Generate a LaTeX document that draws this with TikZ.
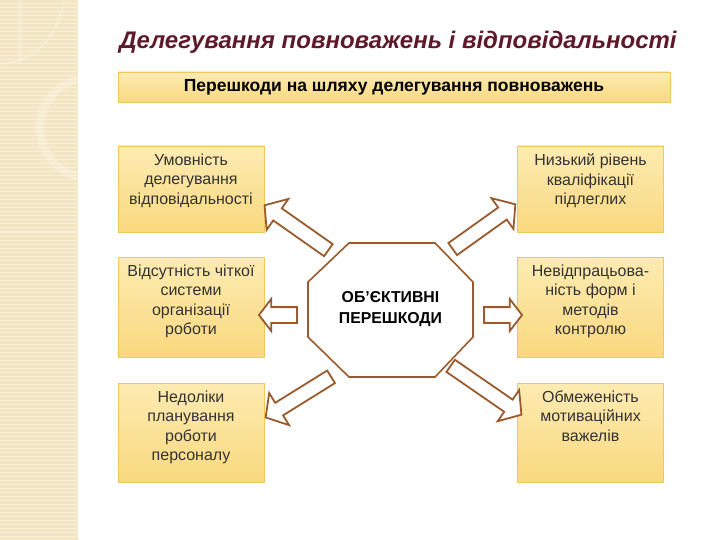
\documentclass[tikz,border=0pt]{standalone}
\usepackage{fontspec}
\setmainfont{Liberation Sans}
\usetikzlibrary{shapes.arrows,shapes.geometric}
\definecolor{strip}{HTML}{F2E6C4}
\definecolor{stripline}{HTML}{F8EFD6}
\definecolor{titlered}{HTML}{5E1A2A}
\definecolor{boxtop}{HTML}{FDEBB2}
\definecolor{boxbot}{HTML}{F9D97F}
\definecolor{boxline}{HTML}{EEC85A}
\definecolor{brown}{HTML}{9A5A2C}
\tikzset{
  box/.style={draw=boxline, line width=0.8pt, top color=boxtop, bottom color=boxbot, minimum width=146pt, inner sep=0pt},
  boxtext/.style={anchor=north, align=center, font=\fontsize{16}{19.4}\selectfont, text=black!80, inner sep=0pt},
  blockarrow/.style={single arrow, draw=brown, fill=white, line width=1.8pt, inner xsep=0pt, inner ysep=7pt, single arrow head extend=8pt, single arrow tip angle=105, allow upside down, sloped, midway},
  diagarrow/.style={blockarrow, inner ysep=6.5pt, single arrow head extend=11.5pt, single arrow tip angle=100},
}
\begin{document}
\begin{tikzpicture}[x=1pt,y=-1pt]
\useasboundingbox (0,0) rectangle (720,540);
\fill[white] (0,0) rectangle (720,540);
% decorative strip
\fill[strip] (0,0) rectangle (78,540);
\foreach \yy in {0,4,...,540} {\draw[stripline, line width=1pt] (0,\yy) -- (78,\yy);}
\begin{scope}
\clip (0,0) rectangle (78,540);
\draw[white, opacity=0.25, line width=8pt] (90,128) circle (50);
\draw[white, opacity=0.3, line width=1.5pt] (64,0) .. controls (55,45) and (30,62) .. (0,64);
\draw[white, opacity=0.3, line width=1.5pt] (20,0) -- (20,64);
\end{scope}
% title
\node[font=\fontsize{24}{28}\selectfont\bfseries\itshape, text=titlered] (title) at (398,42) {Делегування повноважень і відповідальності};
% top box
\node[box, minimum width=552pt, minimum height=30pt, font=\fontsize{17.5}{20}\selectfont\bfseries] (top) at (394,87) {Перешкоди на шляху делегування повноважень};
% left boxes
\node[box, minimum height=86pt] (l1) at (191,189) {};
\node[boxtext] at ([yshift=-8pt]l1.north) {Умовність\\делегування\\відповідальності};
\node[box, minimum height=100pt] (l2) at (191,307) {};
\node[boxtext] at ([yshift=-8pt]l2.north) {Відсутність чіткої\\системи\\організації\\роботи};
\node[box, minimum height=99pt] (l3) at (191,432.5) {};
\node[boxtext] at ([yshift=-8pt]l3.north) {Недоліки\\планування\\роботи\\персоналу};
% right boxes
\node[box, minimum height=86pt] (r1) at (590.5,189) {};
\node[boxtext] at ([yshift=-8pt]r1.north) {Низький рівень\\кваліфікації\\підлеглих};
\node[box, minimum height=100pt] (r2) at (590.5,307) {};
\node[boxtext] at ([yshift=-8pt]r2.north) {Невідпрацьова-\\ність форм і\\методів\\контролю};
\node[box, minimum height=99pt] (r3) at (590.5,432.5) {};
\node[boxtext] at ([yshift=-8pt]r3.north) {Обмеженість\\мотиваційних\\важелів};
% octagon
\draw[brown, line width=1.6pt, fill=white] (349,243) -- (435,243) -- (473,282) -- (473,337) -- (435,377) -- (349,377) -- (308,337) -- (308,282) -- cycle;
\node[align=center, font=\fontsize{15.8}{21}\selectfont\bfseries] (oct) at (390.5,309) {ОБ'ЄКТИВНІ\\ПЕРЕШКОДИ};
% arrows
\coordinate (a1s) at (331,252); \coordinate (a1e) at (267,207);
\coordinate (a2s) at (300,315); \coordinate (a2e) at (262,315);
\coordinate (a3s) at (334,375); \coordinate (a3e) at (268,416);
\coordinate (a4s) at (450,251); \coordinate (a4e) at (513,206);
\coordinate (a5s) at (481,315); \coordinate (a5e) at (519,315);
\coordinate (a6s) at (448,364); \coordinate (a6e) at (519,413);
\path (a1s) -- (a1e) node[diagarrow, minimum height=78pt] (arr1) {};
\path (a2s) -- (a2e) node[blockarrow, minimum height=38pt] (arr2) {};
\path (a3s) -- (a3e) node[diagarrow, minimum height=77pt] (arr3) {};
\path (a4s) -- (a4e) node[diagarrow, minimum height=77pt] (arr4) {};
\path (a5s) -- (a5e) node[blockarrow, minimum height=38pt] (arr5) {};
\path (a6s) -- (a6e) node[diagarrow, minimum height=86pt] (arr6) {};
\end{tikzpicture}
\end{document}
